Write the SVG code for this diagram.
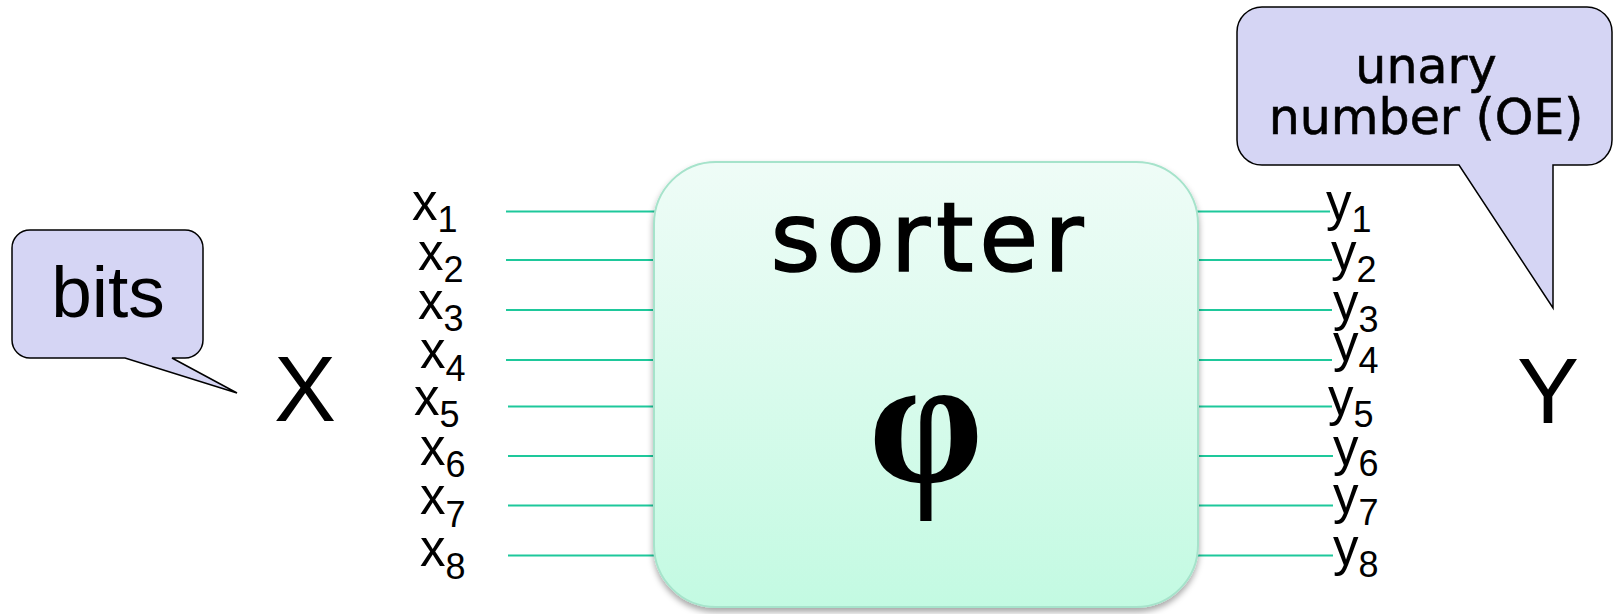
<svg xmlns="http://www.w3.org/2000/svg" width="1620" height="614" viewBox="0 0 1620 614">
  <defs>
    <linearGradient id="boxFill" x1="0" y1="0" x2="0" y2="1">
      <stop offset="0" stop-color="#effcf7"/>
      <stop offset="1" stop-color="#c3fae2"/>
    </linearGradient>
    <filter id="shadow" x="-10%" y="-10%" width="120%" height="120%">
      <feDropShadow dx="0" dy="4" stdDeviation="3" flood-color="#000000" flood-opacity="0.35"/>
    </filter>
    <style>
      .wire { stroke: #1ec89b; stroke-width: 2; fill: none; }
      .lbl { font-family: "Liberation Sans", Arial, sans-serif; fill: #000; }
      .callout { fill: #d5d5f4; stroke: #000; stroke-width: 1.5; }
      .casual { font-family: "DejaVu Sans", "Noto Sans", sans-serif; fill: #000; stroke: #000; }
    </style>
  </defs>

  <g id="connectors">
    <line class="wire" x1="506" y1="211.5" x2="660" y2="211.5"/>
    <line class="wire" x1="506" y1="260" x2="660" y2="260"/>
    <line class="wire" x1="506" y1="310" x2="660" y2="310"/>
    <line class="wire" x1="506" y1="360" x2="660" y2="360"/>
    <line class="wire" x1="508" y1="406.5" x2="660" y2="406.5"/>
    <line class="wire" x1="508" y1="456" x2="660" y2="456"/>
    <line class="wire" x1="508" y1="505.5" x2="660" y2="505.5"/>
    <line class="wire" x1="508" y1="555.5" x2="660" y2="555.5"/>
    <line class="wire" x1="1192" y1="211.5" x2="1330" y2="211.5"/>
    <line class="wire" x1="1192" y1="260" x2="1332" y2="260"/>
    <line class="wire" x1="1192" y1="310" x2="1332" y2="310"/>
    <line class="wire" x1="1192" y1="360" x2="1332" y2="360"/>
    <line class="wire" x1="1192" y1="406.5" x2="1332" y2="406.5"/>
    <line class="wire" x1="1192" y1="456" x2="1333" y2="456"/>
    <line class="wire" x1="1192" y1="505.5" x2="1333" y2="505.5"/>
    <line class="wire" x1="1192" y1="555.5" x2="1333" y2="555.5"/>
  </g>

  <g id="sorter">
    <rect x="654" y="162" width="544" height="445" rx="62" ry="62" fill="url(#boxFill)" stroke="#a6e3cb" stroke-width="2" filter="url(#shadow)"/>
    <text class="casual" x="927" y="271" font-size="96" stroke-width="1.5" text-anchor="middle" textLength="313" lengthAdjust="spacing">sorter</text>
    <text x="926" y="482" font-family="Liberation Serif, 'DejaVu Serif', serif" font-size="185" font-weight="bold" text-anchor="middle">φ</text>
  </g>

  <g id="inputs">
    <text class="lbl" x="412" y="220" font-size="51">x<tspan dy="12" font-size="36">1</tspan></text>
    <text class="lbl" x="418" y="270" font-size="51">x<tspan dy="12" font-size="36">2</tspan></text>
    <text class="lbl" x="418" y="319" font-size="51">x<tspan dy="12" font-size="36">3</tspan></text>
    <text class="lbl" x="420" y="368" font-size="51">x<tspan dy="13" font-size="36">4</tspan></text>
    <text class="lbl" x="414" y="415" font-size="51">x<tspan dy="12" font-size="36">5</tspan></text>
    <text class="lbl" x="420" y="465" font-size="51">x<tspan dy="12" font-size="36">6</tspan></text>
    <text class="lbl" x="420" y="514" font-size="51">x<tspan dy="13" font-size="36">7</tspan></text>
    <text class="lbl" x="420" y="566" font-size="51">x<tspan dy="13" font-size="36">8</tspan></text>
  </g>

  <g id="outputs">
    <text class="lbl" x="1326" y="220" font-size="51">y<tspan dy="12" font-size="36">1</tspan></text>
    <text class="lbl" x="1331" y="270" font-size="51">y<tspan dy="12" font-size="36">2</tspan></text>
    <text class="lbl" x="1333" y="320" font-size="51">y<tspan dy="12" font-size="36">3</tspan></text>
    <text class="lbl" x="1333" y="361" font-size="51">y<tspan dy="12" font-size="36">4</tspan></text>
    <text class="lbl" x="1328" y="415" font-size="51">y<tspan dy="12" font-size="36">5</tspan></text>
    <text class="lbl" x="1333" y="465" font-size="51">y<tspan dy="11" font-size="36">6</tspan></text>
    <text class="lbl" x="1333" y="513" font-size="51">y<tspan dy="12" font-size="36">7</tspan></text>
    <text class="lbl" x="1333" y="565" font-size="51">y<tspan dy="12" font-size="36">8</tspan></text>
  </g>

  <g id="X">
    <text class="lbl" x="274" y="421" font-size="93">X</text>
  </g>
  <g id="Y">
    <text class="lbl" x="1517" y="423" font-size="93">Y</text>
  </g>

  <g id="bits-callout">
    <path class="callout" d="M30,230 H185 A18,18 0 0 1 203,248 V340 A18,18 0 0 1 185,358 H172 L237,393 L125,358 H30 A18,18 0 0 1 12,340 V248 A18,18 0 0 1 30,230 Z"/>
    <text class="lbl" x="108" y="317" font-size="73" text-anchor="middle">bits</text>
  </g>

  <g id="unary-callout">
    <path class="callout" d="M1262,7 H1587 A25,25 0 0 1 1612,32 V140 A25,25 0 0 1 1587,165 H1553 L1553,308 L1459,165 H1262 A25,25 0 0 1 1237,140 V32 A25,25 0 0 1 1262,7 Z"/>
    <text class="casual" x="1426" y="83" font-size="49" stroke-width="0.6" text-anchor="middle">unary</text>
    <text class="casual" x="1426" y="134" font-size="49" stroke-width="0.6" text-anchor="middle">number (OE)</text>
  </g>
</svg>
